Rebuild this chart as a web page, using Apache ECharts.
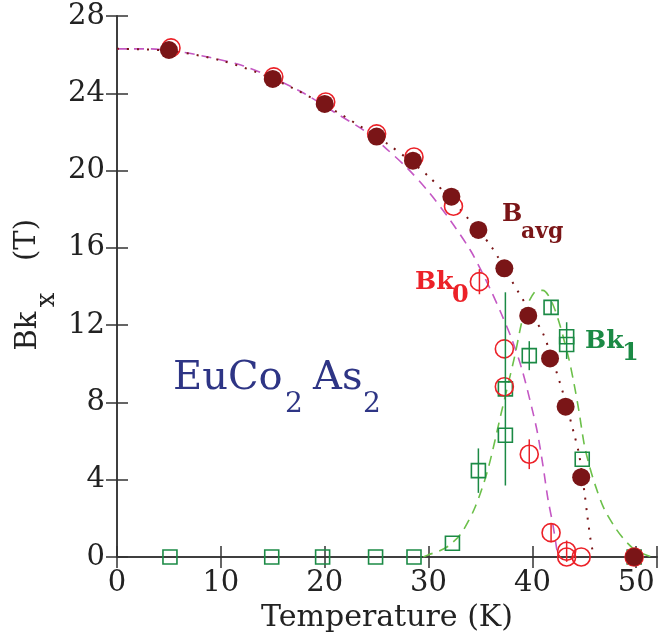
<!DOCTYPE html>
<html>
<head>
<meta charset="utf-8">
<script src="https://cdn.jsdelivr.net/npm/echarts@6/dist/echarts.min.js"></script>
<style>
  html, body { margin: 0; padding: 0; background: #fff; }
  #chart { width: 660px; height: 644px; }
</style>
</head>
<body>
<div id="chart"></div>
<script>
// tick labels
var xTickLabels = [0, 10, 20, 30, 40, 50];
var yTickLabels = [0, 4, 8, 12, 16, 20, 24, 28];

// B_avg (filled circles) [T, B]
var bavgPoints = [[5, 26.24], [15, 24.74], [20, 23.45], [25, 21.76], [28.5, 20.51], [32.2, 18.65],
  [34.8, 16.93], [37.3, 14.94], [39.6, 12.49], [41.7, 10.28], [43.2, 7.78], [44.7, 4.13], [49.8, 0]];
// Bk0 (open circles)
var bk0Points = [[5.2, 26.35], [15.1, 24.85], [20.1, 23.55], [25, 21.9], [28.6, 20.7], [32.4, 18.15],
  [34.9, 14.25], [37.3, 10.77], [37.3, 8.81], [39.7, 5.32], [41.8, 1.26], [43.3, 0.3], [43.3, 0],
  [44.7, 0], [49.8, 0]];
// Bk1 (open squares)
var bk1Points = [[5.1, 0], [14.9, 0], [19.8, 0], [24.9, 0], [28.6, 0], [32.3, 0.71], [34.8, 4.47],
  [37.4, 6.3], [37.4, 8.7], [39.7, 10.42], [41.8, 12.92], [43.3, 11.4], [43.3, 11.0], [44.8, 5.06],
  [49.8, 0]];
// error bars [T, B, err]
var bk0Errors = [[34.9, 14.25, 0.65], [39.7, 5.32, 0.77], [41.8, 1.26, 0.5], [43.3, 0.3, 0.55]];
var bk1Errors = [[34.8, 4.47, 1.15], [37.4, 8.7, 5.0], [39.7, 10.42, 0.75], [41.8, 12.92, 0.35], [43.3, 11.2, 0.95]];

// fitted curves
var bk0Fit = [[0, 26.3], [3, 26.3], [6, 26.15], [9, 25.85], [12, 25.45], [15, 24.8], [18, 24.0],
  [21, 23.0], [24, 22.0], [26, 21.1], [28, 20.1], [30, 18.9], [32, 17.5], [34, 15.9], [35, 14.9],
  [36, 13.8], [37, 12.6], [38, 11.3], [39, 9.7], [40, 7.6], [40.5, 6.4], [41, 4.8], [41.5, 3.0],
  [42, 1.6], [42.4, 0.2]];
var bavgFit = [[0, 26.3], [5, 26.2], [10, 25.7], [15, 24.75], [20, 23.4], [24, 22.1], [26, 21.4],
  [28, 20.6], [30, 19.7], [32, 18.6], [34, 17.4], [36, 16.1], [38, 14.3], [40, 12.5], [41, 11.6],
  [42, 10.1], [43, 8.4], [44, 6.4], [44.5, 5.3], [45, 3.4], [45.3, 2.1], [45.6, 0.9], [45.9, 0.05]];
var bk1Fit = [[29.5, 0], [30, 0.12], [31, 0.3], [32, 0.6], [33.2, 1.27], [34.5, 2.6], [35.7, 4.5],
  [37, 7.45], [38.3, 10.4], [39.2, 12.6], [40.2, 13.7], [41, 13.8], [42.1, 12.9], [43.4, 10.5],
  [44, 9.0], [44.5, 7.5], [45, 5.8], [45.5, 4.7], [46, 3.8], [46.9, 2.5], [48, 1.5], [48.8, 0.93],
  [49.8, 0.4], [50.7, 0.15], [51.5, 0]];

var SERIF = '"DejaVu Serif", "Liberation Serif", serif';
var darkRed = '#7a1517';
var red = '#ec2128';
var green = '#1b8a45';
var navy = '#2e3585';

var chart = echarts.init(document.getElementById('chart'));

function errBars(data, color, z) {
  return {
    type: 'custom',
    data: data,
    encode: {x: 0, y: 1},
    z: z,
    renderItem: function (params, api) {
      var t = api.value(0), b = api.value(1), e = api.value(2);
      var lo = api.coord([t, b - e]);
      var hi = api.coord([t, b + e]);
      return {
        type: 'line',
        shape: {x1: lo[0], y1: lo[1], x2: hi[0], y2: hi[1]},
        style: {stroke: color, lineWidth: 1.5}
      };
    }
  };
}

function txt(s, x, y, size, color, weight, rot) {
  return {
    type: 'text', x: x, y: y, rotation: rot || 0, z: 100,
    style: {
      text: s, fill: color,
      font: (weight || 'normal') + ' ' + size + 'px ' + SERIF,
      align: rot ? 'center' : 'left', verticalAlign: 'middle',
      textAlign: rot ? 'center' : 'left', textVerticalAlign: 'middle'
    }
  };
}

var axisLine = {show: true, lineStyle: {color: '#333', width: 1.5}};
var tickStyle = {show: true, inside: true, length: 11, lineStyle: {color: '#333', width: 1.5}};

chart.setOption({
  animation: false,
  backgroundColor: '#fff',
  grid: {left: 117, right: 1, top: 16, bottom: 87},
  xAxis: [{
    type: 'value', min: 0, max: 52, interval: 10,
    axisLine: axisLine, axisTick: tickStyle, splitLine: {show: false},
    axisLabel: {
      margin: 12, color: '#222', fontSize: 29, fontFamily: SERIF,
      formatter: function (v) { return xTickLabels.indexOf(v) >= 0 ? String(v) : ''; }
    },
    name: 'Temperature (K)', nameLocation: 'middle', nameGap: 39,
    nameTextStyle: {color: '#222', fontSize: 30, fontFamily: SERIF}
  }, {
    type: 'value', position: 'top', min: 0, max: 52, interval: 10,
    axisLine: axisLine, axisTick: tickStyle, axisLabel: {show: false}, splitLine: {show: false}
  }],
  yAxis: [{
    type: 'value', min: 0, max: 28, interval: 4,
    axisLine: axisLine, axisTick: tickStyle, splitLine: {show: false},
    axisLabel: {
      margin: 12, color: '#222', fontSize: 29, fontFamily: SERIF,
      formatter: function (v) { return yTickLabels.indexOf(v) >= 0 ? String(v) : ''; }
    }
  }, {
    type: 'value', position: 'right', min: 0, max: 28, interval: 4,
    axisLine: axisLine, axisTick: tickStyle, axisLabel: {show: false}, splitLine: {show: false}
  }],
  series: [{
    name: 'Bk0 fit', type: 'line', data: bk0Fit, smooth: 0.3, showSymbol: false, z: 2,
    lineStyle: {color: '#c458c4', width: 1.6, type: [10, 7]}
  }, {
    name: 'Bavg fit', type: 'line', data: bavgFit, smooth: 0.3, showSymbol: false, z: 2,
    lineStyle: {color: darkRed, width: 2, type: [2, 8]}
  }, {
    name: 'Bk1 fit', type: 'line', data: bk1Fit, smooth: 0.3, showSymbol: false, z: 2,
    lineStyle: {color: '#6cc04a', width: 1.6, type: [10, 7]}
  }, {
    name: 'Bk1', type: 'scatter', data: bk1Points, symbol: 'rect', symbolSize: 14, z: 3,
    itemStyle: {color: 'rgba(0,0,0,0)', borderColor: green, borderWidth: 1.6, opacity: 1}
  }, {
    name: 'Bk0', type: 'scatter', data: bk0Points, symbol: 'circle', symbolSize: 18, z: 4,
    itemStyle: {color: 'rgba(0,0,0,0)', borderColor: red, borderWidth: 1.6, opacity: 1}
  },
  errBars(bk0Errors, red, 5),
  errBars(bk1Errors, green, 5),
  {
    name: 'Bavg', type: 'scatter', data: bavgPoints, symbol: 'circle', symbolSize: 18, z: 6,
    itemStyle: {color: darkRed, opacity: 1}
  }],
  graphic: [
    txt('B', 502, 215, 24, darkRed, 'bold'),
    txt('avg', 521, 232, 22, darkRed, 'bold'),
    txt('Bk', 415, 282, 25, red, 'bold'),
    txt('0', 452, 296, 24, red, 'bold'),
    txt('Bk', 585, 341, 25, green, 'bold'),
    txt('1', 622, 354, 24, green, 'bold'),
    txt('EuCo', 173, 379, 40, navy),
    txt('2', 285, 405, 28, navy),
    txt('As', 313, 379, 40, navy),
    txt('2', 363, 405, 28, navy),
    txt('Bk', 28, 331, 29, '#222', 'normal', Math.PI / 2),
    txt('x', 47, 300, 26, '#222', 'normal', Math.PI / 2),
    txt('(T)', 27, 240, 29, '#222', 'normal', Math.PI / 2)
  ]
});
</script>
</body>
</html>
